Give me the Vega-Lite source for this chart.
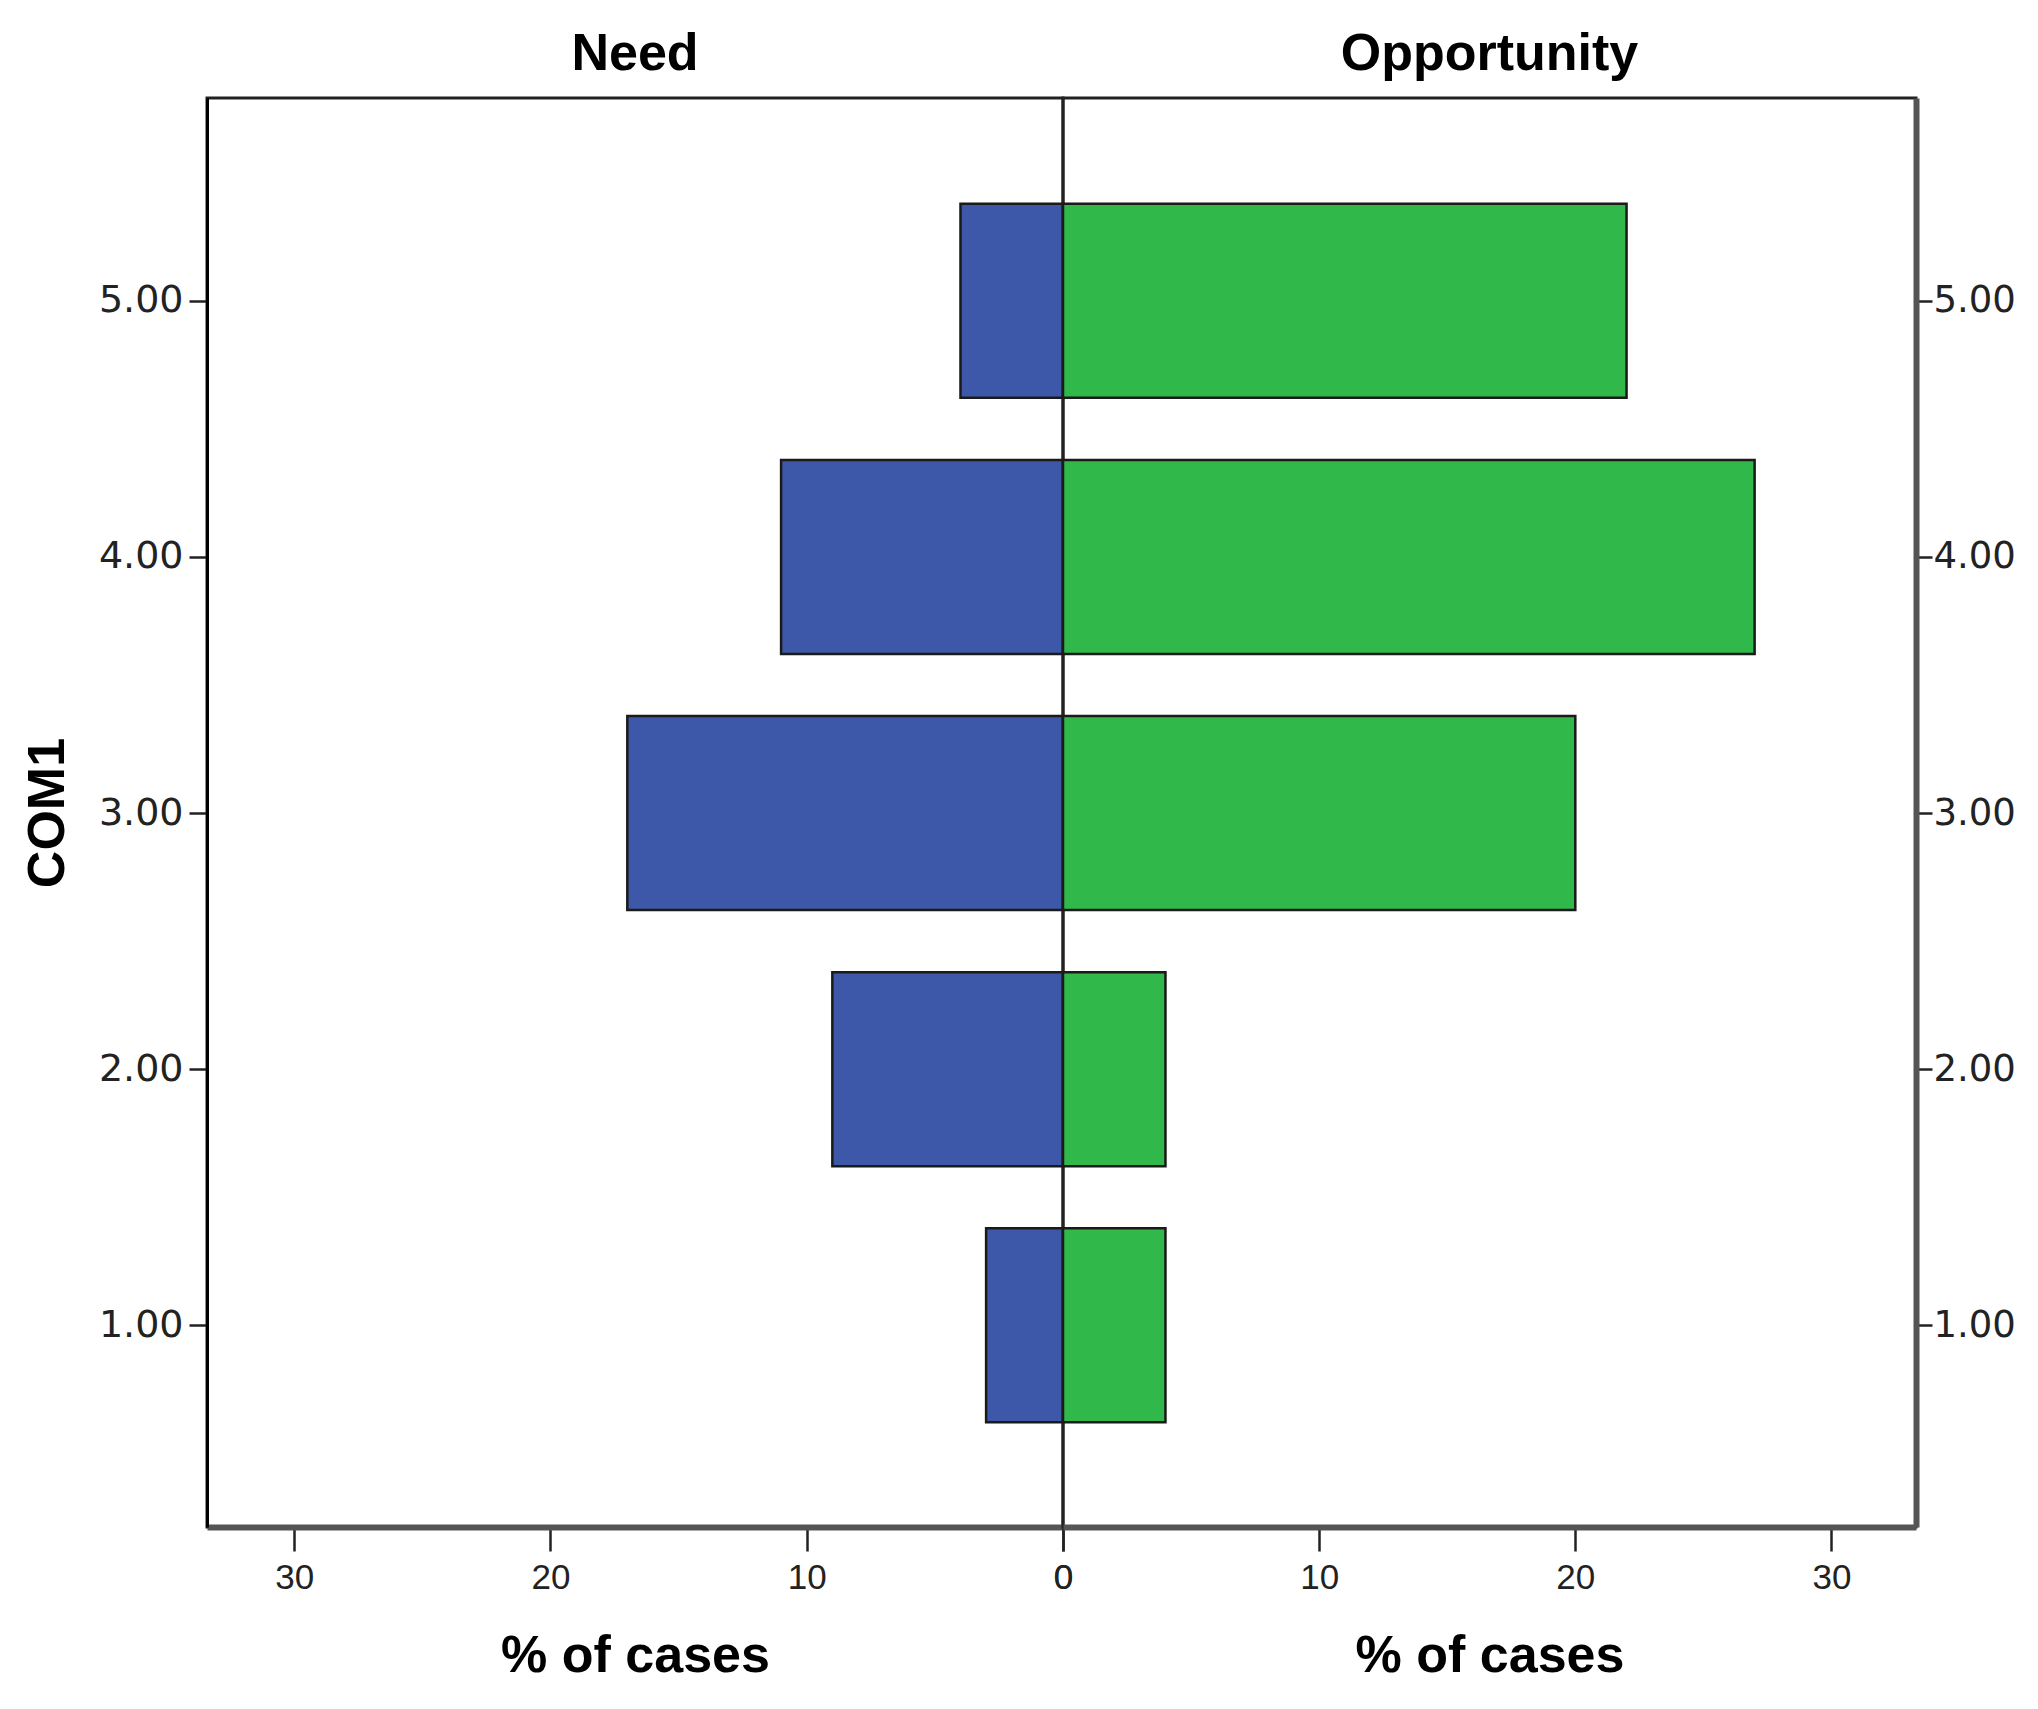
{
  "$schema": "https://vega.github.io/schema/vega-lite/v6.json",
  "background": "white",
  "padding": {"left": 19, "top": 26, "right": 10, "bottom": 10},
  "spacing": 0,
  "bounds": "flush",
  "config": {
    "view": {"stroke": "#222", "strokeWidth": 3},
    "axis": {"grid": false},
    "concat": {"spacing": 0}
  },
  "datasets": {
    "need": [
      {"com": 1, "pct": 3},
      {"com": 2, "pct": 9},
      {"com": 3, "pct": 17},
      {"com": 4, "pct": 11},
      {"com": 5, "pct": 4}
    ],
    "opportunity": [
      {"com": 1, "pct": 4},
      {"com": 2, "pct": 4},
      {"com": 3, "pct": 20},
      {"com": 4, "pct": 27},
      {"com": 5, "pct": 22}
    ]
  },
  "hconcat": [
    {
      "width": 856,
      "height": 1429,
      "data": {"name": "need"},
      "title": {"text": "Need", "font": "Liberation Sans", "fontSize": 52, "fontWeight": "bold", "color": "#000", "offset": 17, "anchor": "middle"},
      "mark": {"type": "bar", "orient": "horizontal", "size": 194, "color": "#3e58a9", "stroke": "#1a1a1a", "strokeWidth": 2.5},
      "encoding": {
        "x": {
          "field": "pct", "type": "quantitative",
          "scale": {"domain": [0, 33.4], "reverse": true, "nice": false, "zero": true},
          "axis": {
            "orient": "bottom", "values": [0, 10, 20, 30], "title": "% of cases",
            "titleFont": "Liberation Sans", "titleFontSize": 52, "titleFontWeight": "bold", "titleColor": "#000", "titlePadding": 35,
            "labelFont": "Liberation Sans", "labelFontSize": 35, "labelColor": "#222", "labelPadding": 9, "labelFlush": false, "labelOverlap": false,
            "tickSize": 24, "tickColor": "#222", "tickWidth": 2.5,
            "domainColor": "#555", "domainWidth": 6
          }
        },
        "y": {
          "field": "com", "type": "quantitative",
          "scale": {"domain": [0.232, 5.772], "nice": false, "zero": false},
          "axis": {
            "orient": "left", "values": [1, 2, 3, 4, 5], "format": ".2f", "title": "COM1",
            "titleFont": "Liberation Sans", "titleFontSize": 52, "titleFontWeight": "bold", "titleColor": "#000", "titlePadding": 24,
            "labelFont": "DejaVu Sans", "labelFontSize": 38, "labelColor": "#222", "labelPadding": 6,
            "tickSize": 18, "tickColor": "#222", "tickWidth": 2.5,
            "domainColor": "#000", "domainWidth": 3
          }
        }
      }
    },
    {
      "width": 853,
      "height": 1429,
      "data": {"name": "opportunity"},
      "title": {"text": "Opportunity", "font": "Liberation Sans", "fontSize": 52, "fontWeight": "bold", "color": "#000", "offset": 17, "anchor": "middle"},
      "mark": {"type": "bar", "orient": "horizontal", "size": 194, "color": "#30b84a", "stroke": "#1a1a1a", "strokeWidth": 2.5},
      "encoding": {
        "x": {
          "field": "pct", "type": "quantitative",
          "scale": {"domain": [0, 33.3], "nice": false, "zero": true},
          "axis": {
            "orient": "bottom", "values": [0, 10, 20, 30], "title": "% of cases",
            "titleFont": "Liberation Sans", "titleFontSize": 52, "titleFontWeight": "bold", "titleColor": "#000", "titlePadding": 35,
            "labelFont": "Liberation Sans", "labelFontSize": 35, "labelColor": "#222", "labelPadding": 9, "labelFlush": false, "labelOverlap": false,
            "tickSize": 24, "tickColor": "#222", "tickWidth": 2.5,
            "domainColor": "#555", "domainWidth": 6
          }
        },
        "y": {
          "field": "com", "type": "quantitative",
          "scale": {"domain": [0.232, 5.772], "nice": false, "zero": false},
          "axis": {
            "orient": "right", "values": [1, 2, 3, 4, 5], "format": ".2f", "title": null,
            "labelFont": "DejaVu Sans", "labelFontSize": 37, "labelColor": "#222", "labelPadding": 1,
            "tickSize": 16, "tickColor": "#222", "tickWidth": 2.5,
            "domainColor": "#555", "domainWidth": 6
          }
        }
      }
    }
  ]
}
